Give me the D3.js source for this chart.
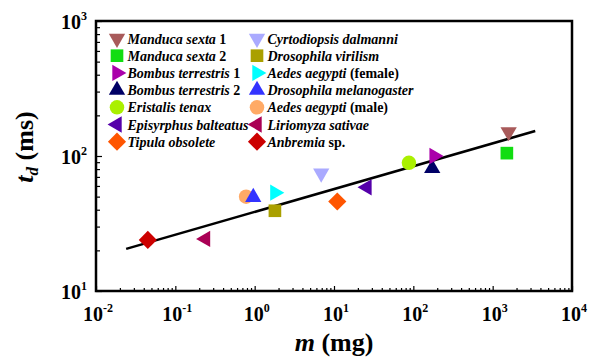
<!DOCTYPE html>
<html>
<head>
<script src="https://d3js.org/d3.v7.min.js"></script>
</head>
<body style="margin:0; background:#fff">
<svg width="599" height="357"></svg>
<script>
// species (legend order: first column then second column)
var italicNames = ["Manduca sexta", "Manduca sexta", "Bombus terrestris", "Bombus terrestris",
  "Eristalis tenax", "Episyrphus balteatus", "Tipula obsolete",
  "Cyrtodiopsis dalmanni", "Drosophila virilism", "Aedes aegypti", "Drosophila melanogaster",
  "Aedes aegypti", "Liriomyza sativae", "Anbremia"];
var suffixes = [" 1", " 2", " 1", " 2", "", "", "", "", "", " (female)", "", " (male)", "", " sp."];
var massMg = [1590, 1510, 183, 173, 88, 26, 11, 6.9, 1.8, 1.8, 0.96, 0.78, 0.24, 0.045];
var tdMs = [151, 105, 100, 81, 89, 58.6, 46, 74.5, 39.3, 53.5, 49.5, 50, 24.3, 23.9];

// fitted power law line, two end points
var fitMass = [0.024, 3440];
var fitTd = [20.5, 153];

var xTicks = [0.01, 0.1, 1, 10, 100, 1000, 10000];
var yTicks = [10, 100, 1000];

// marker styles
var colors = ["#a85a5a", "#11dd11", "#aa00aa", "#000066", "#aaf000", "#5500aa", "#ff5500",
  "#aaaaff", "#aaa000", "#00ffff", "#3333ff", "#ffaa66", "#aa0055", "#cc0000"];
var shapes = ["down", "square", "right", "up", "circle", "left", "diamond",
  "down", "square", "right", "up", "circle", "left", "diamond"];

var margin = {top: 21, left: 96, right: 27, bottom: 66};
var W = 599, H = 357;
var width = W - margin.left - margin.right;
var height = H - margin.top - margin.bottom;

var svg = d3.select("svg")
  .attr("font-family", "Liberation Serif")
  .attr("font-weight", "bold");
var g = svg.append("g").attr("transform", "translate(" + margin.left + "," + margin.top + ")");

var x = d3.scaleLog().domain([0.01, 10000]).range([0, width]);
var y = d3.scaleLog().domain([10, 1000]).range([height, 0]);

function minors(lo, hi) {
  var out = [];
  for (var e = lo; e < hi; e++)
    for (var k = 2; k <= 9; k++) out.push(k * Math.pow(10, e));
  return out;
}

// ticks inside the frame
g.append("g").attr("class", "axis")
  .call(d3.axisLeft(y).tickValues(yTicks).tickSize(-6).tickFormat(""));
g.append("g").attr("class", "axis")
  .call(d3.axisLeft(y).tickValues(minors(1, 3)).tickSize(-4).tickFormat(""));
g.append("g").attr("class", "axis").attr("transform", "translate(0," + height + ")")
  .call(d3.axisBottom(x).tickValues(xTicks).tickSize(-5).tickFormat(""));
g.append("g").attr("class", "axis").attr("transform", "translate(0," + height + ")")
  .call(d3.axisBottom(x).tickValues(minors(-2, 4)).tickSize(-3).tickFormat(""));
g.selectAll(".axis path").remove();
g.selectAll(".axis line").attr("stroke", "#000").attr("stroke-width", 1.2);

// frame
g.append("rect").attr("width", width).attr("height", height)
  .attr("fill", "none").attr("stroke", "#000").attr("stroke-width", 2.5);

// tick labels
function powLabel(sel, v) {
  var e = Math.round(Math.log10(v));
  sel.append("tspan").text("10");
  sel.append("tspan").attr("font-size", 12).attr("dy", -9).text(e);
}
yTicks.forEach(function(v) {
  var t = g.append("text").attr("x", -9).attr("y", y(v) + 8)
    .attr("text-anchor", "end").attr("font-size", 20);
  powLabel(t, v);
});
xTicks.forEach(function(v) {
  var t = g.append("text").attr("x", x(v) + 2).attr("y", height + 30)
    .attr("text-anchor", "middle").attr("font-size", 20);
  powLabel(t, v);
});

// axis titles
var xt = svg.append("text").attr("x", margin.left + width / 2).attr("y", 351)
  .attr("text-anchor", "middle").attr("font-size", 26);
xt.append("tspan").attr("font-style", "italic").text("m");
xt.append("tspan").text(" (mg)");

var yt = svg.append("text").attr("transform", "translate(33,147) rotate(-90)")
  .attr("text-anchor", "middle").attr("font-size", 26);
yt.append("tspan").attr("font-style", "italic").text("t");
yt.append("tspan").attr("font-style", "italic").attr("font-size", 17).attr("dy", 5).text("d");
yt.append("tspan").attr("dy", -5).text(" (ms)");

// fit line
var line = d3.line().x(function(d) { return x(d[0]); }).y(function(d) { return y(d[1]); });
g.append("path").datum(d3.zip(fitMass, fitTd)).attr("d", line)
  .attr("fill", "none").attr("stroke", "#000").attr("stroke-width", 2.5);

function marker(sel, shape, color) {
  var type = d3.symbolTriangle, size = 115, rot = 0;
  if (shape === "square") { type = d3.symbolSquare; size = 160; }
  if (shape === "circle") { type = d3.symbolCircle; size = 165; }
  if (shape === "diamond") { type = d3.symbolSquare; size = 165; rot = 45; }
  if (shape === "down") rot = 180;
  if (shape === "right") rot = 90;
  if (shape === "left") rot = -90;
  sel.append("path").attr("d", d3.symbol().type(type).size(size)())
    .attr("transform", "rotate(" + rot + ")").attr("fill", color);
}

// data points (drawn in reverse so overlaps look like the original)
d3.range(massMg.length).reverse().forEach(function(i) {
  var p = g.append("g").attr("transform", "translate(" + x(massMg[i]) + "," + y(tdMs[i]) + ")");
  marker(p, shapes[i], colors[i]);
});

// legend
var legend = svg.append("g");
italicNames.forEach(function(name, i) {
  var col = i < 7 ? 0 : 1, row = i % 7;
  var lx = col === 0 ? 117 : 257, ly = 38.5 + row * 17.2;
  var m = legend.append("g").attr("transform", "translate(" + lx + "," + ly + ")");
  marker(m, shapes[i], colors[i]);
  var t = legend.append("text").attr("x", lx + 10.5).attr("y", ly + 5)
    .attr("font-size", 14);
  t.append("tspan").attr("font-style", "italic").text(name);
  if (suffixes[i]) t.append("tspan").text(suffixes[i]);
});
</script>
</body>
</html>
